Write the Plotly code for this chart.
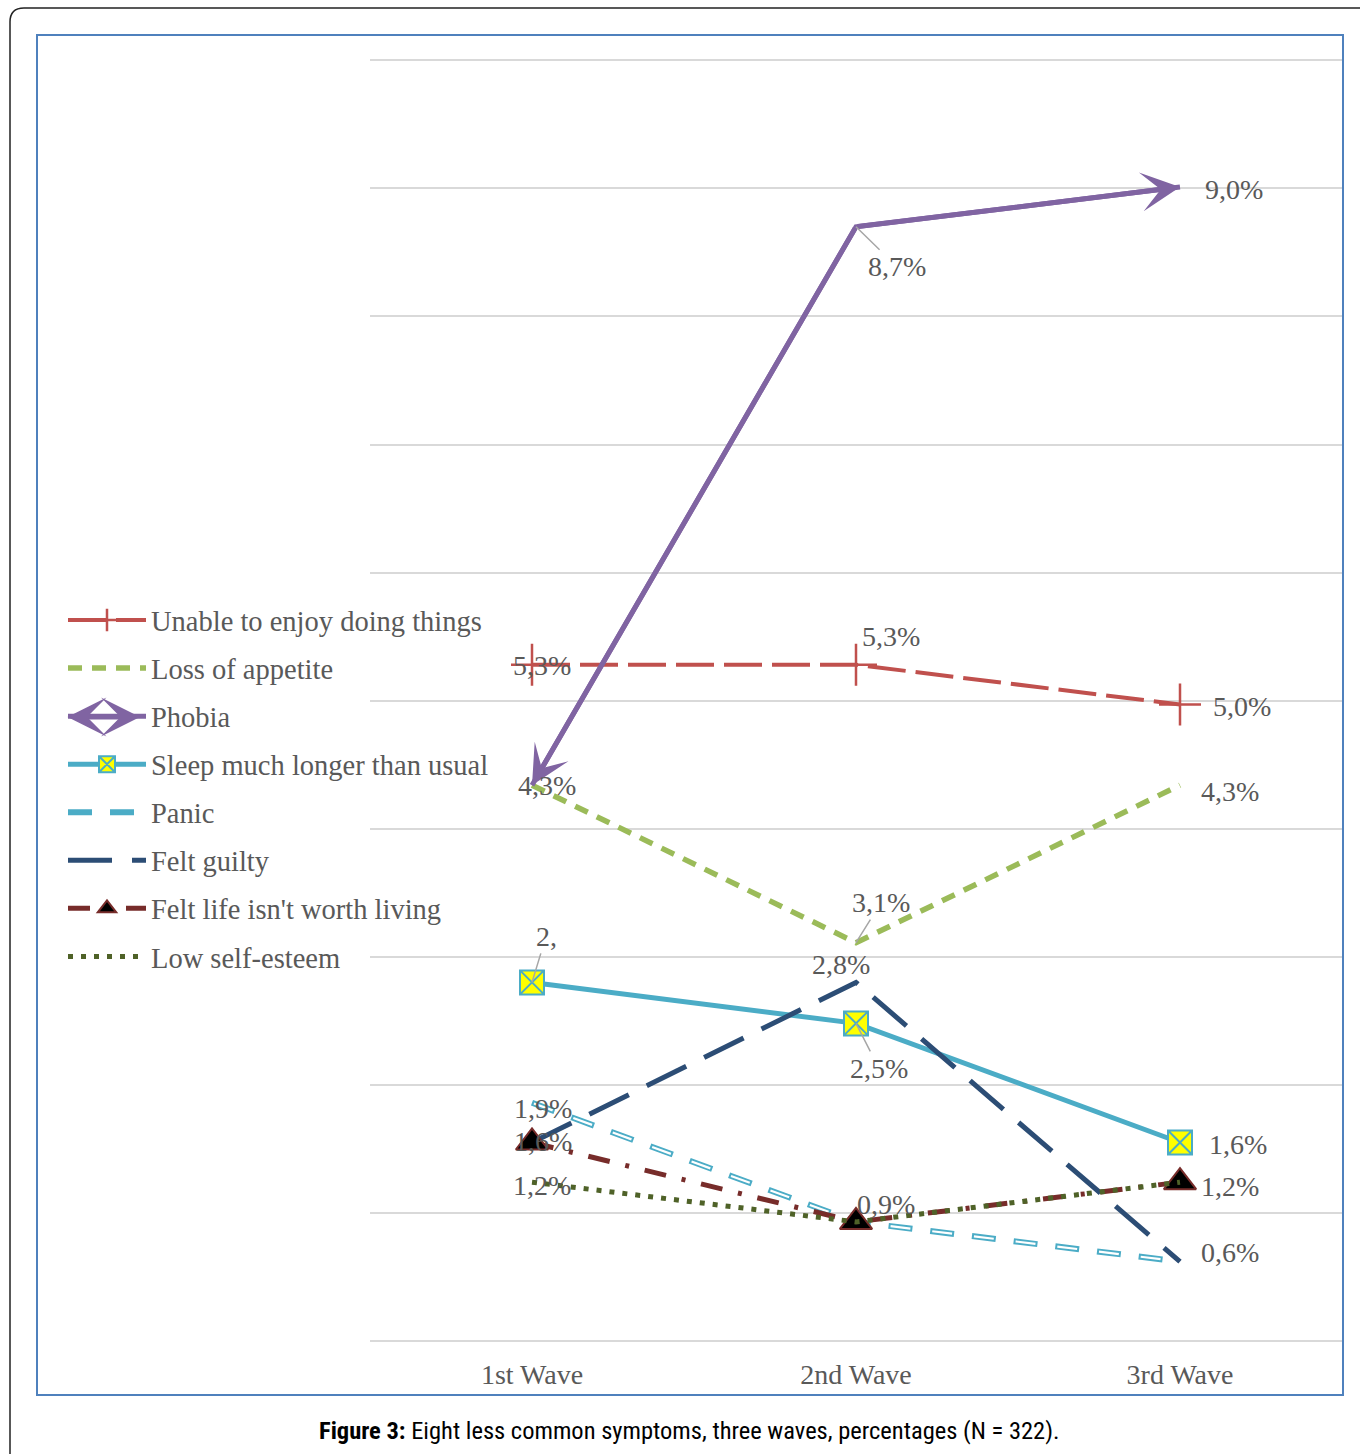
import plotly.graph_objects as go

W, H = 1360, 1454

def px(x):
    return x / W

def py(y):
    return 1 - y / H

waves = ["1st Wave", "2nd Wave", "3rd Wave"]

unable = [5.28, 5.28, 4.97]
appetite = [4.34, 3.11, 4.34]
phobia = [4.34, 8.70, 9.01]
sleep = [2.80, 2.48, 1.55]
panic = [1.86, 0.93, 0.62]
guilty = [1.55, 2.80, 0.62]
life = [1.55, 0.93, 1.24]
esteem = [1.24, 0.93, 1.24]

names = ["Unable to enjoy doing things", "Loss of appetite", "Phobia",
         "Sleep much longer than usual", "Panic", "Felt guilty",
         "Felt life isn't worth living", "Low self-esteem"]

SERIF = "Liberation Serif, Times New Roman, serif"
GRAY = "#595959"
PURPLE = "#8064A2"

fig = go.Figure()

def add(y, name, color, width, dash, marker=None, legend=True, group=None):
    fig.add_trace(go.Scatter(
        x=waves, y=y, name=name, mode="lines+markers" if marker else "lines",
        line=dict(color=color, width=width, dash=dash),
        marker=marker, showlegend=legend, legendgroup=group or name,
        cliponaxis=False,
    ))

add(unable, names[0], "#C0504D", 4, "38px,10px",
    dict(symbol="cross-thin", size=30, line=dict(width=2.5, color="#C0504D"), color="#C0504D"))
add(appetite, names[1], "#9BBB59", 5.5, "14px,10px")
add(phobia, names[2], PURPLE, 5, "solid")
add(sleep, names[3], "#4BACC6", 5, "solid",
    dict(symbol="square-x", size=24, color="#FFFF00", line=dict(width=2, color="#4BACC6")))
add(panic, names[4], "#4BACC6", 6, "24px,18px")
add(panic, names[4] + " inner", "#FFFFFF", 2.2, "0px,2px,20px,20px", legend=False, group=names[4])
add(guilty, names[5], "#2C4D75", 5, "44px,20px")
add(life, names[6], "#772C2A", 5, "22px,16px,4px,16px",
    dict(symbol="triangle-up", size=28, color="#000000", line=dict(width=2, color="#772C2A")))
add(esteem, names[7], "#4F6228", 5, "5px,8px")

# Phobia arrowheads
for i_from, i_to in [(1, 0), (1, 2)]:
    fig.add_annotation(x=i_to, y=phobia[i_to], ax=i_from, ay=phobia[i_from],
                       axref="x", ayref="y", xref="x", yref="y", text="",
                       showarrow=True, arrowhead=3, arrowsize=1.3, arrowwidth=5,
                       arrowcolor=PURPLE, standoff=0)

# double-arrow glyph over the Phobia legend sample
fig.add_annotation(xref="paper", yref="paper", x=px(140), y=py(717),
                   ax=-74, ay=0, text="",
                   showarrow=True, arrowside="end+start", arrowhead=3, arrowsize=1.3,
                   arrowwidth=5, arrowcolor=PURPLE, standoff=0)

def fmt(v):
    return f"{v:.1f}%".replace(".", ",")

# labels: (series, index, xshift, yshift, leader)
labels = [
    (unable, 0, 10, -1, False), (unable, 1, 35, 28, False), (unable, 2, 62, -2, False),
    (appetite, 0, 15, 0, False), (appetite, 1, 25, -40, True), (appetite, 2, 50, -6, False),
    (phobia, 1, 41, 40, True), (phobia, 2, 54, -2, False),
    (sleep, 1, 23, 45, True), (sleep, 2, 58, -2, False),
    (panic, 0, 11, -6, False),
    (guilty, 0, 11, 1, False), (guilty, 1, -15, 18, False), (guilty, 2, 50, 9, False),
    (life, 1, 30, 17, False),
    (esteem, 0, 10, -3, False), (esteem, 2, 50, -4, False),
]
for s, i, dx, dy, leader in labels:
    if leader:
        fig.add_annotation(x=i, y=s[i], text=fmt(s[i]), showarrow=True,
                           ax=dx, ay=dy, arrowhead=0, arrowwidth=1.5,
                           arrowcolor="#A6A6A6", standoff=0,
                           font=dict(family=SERIF, size=28, color=GRAY))
    else:
        fig.add_annotation(x=i, y=s[i], text=fmt(s[i]), showarrow=False,
                           xshift=dx, yshift=dy,
                           font=dict(family=SERIF, size=28, color=GRAY))
# truncated label of sleep at 1st wave
fig.add_annotation(x=0, y=sleep[0], text=fmt(sleep[0])[:2], showarrow=True,
                   ax=14, ay=-46, arrowhead=0, arrowwidth=1.5,
                   arrowcolor="#A6A6A6", standoff=0,
                   font=dict(family=SERIF, size=28, color=GRAY))

# caption
fig.add_annotation(xref="paper", yref="paper", x=px(689), y=py(1430),
                   text="<b>Figure 3:</b> Eight less common symptoms, three waves, percentages (N = 322).",
                   showarrow=False, xanchor="center", yanchor="middle",
                   font=dict(family="Liberation Sans Narrow, Roboto Condensed, Liberation Sans, sans-serif",
                             size=24.5, color="#000000"))

shapes = [
    dict(type="rect", xref="paper", yref="paper", x0=px(37), x1=px(1343), y0=py(35), y1=py(1395),
         line=dict(color="#4F81BD", width=2), layer="below"),
    dict(type="path", xref="paper", yref="paper",
         path=f"M {px(10)},{py(1470)} L {px(10)},{py(22)} Q {px(10)},{py(8)} {px(24)},{py(8)} L {px(1380)},{py(8)}",
         line=dict(color="#222222", width=1.5)),
]

fig.update_layout(
    width=W, height=H, margin=dict(l=0, r=0, t=0, b=0),
    paper_bgcolor="white", plot_bgcolor="white",
    shapes=shapes,
    showlegend=True,
    legend=dict(x=px(63), y=py(595), xanchor="left", yanchor="top",
                font=dict(family=SERIF, size=28.5, color=GRAY),
                traceorder="grouped", tracegroupgap=8, itemwidth=78,
                bgcolor="rgba(0,0,0,0)"),
    xaxis=dict(domain=[px(370), px(1342)], type="category", range=[-0.5, 2.5],
               showgrid=False, zeroline=False, showline=False, ticks="",
               tickfont=dict(family=SERIF, size=28, color=GRAY), ticklabelstandoff=14),
    yaxis=dict(domain=[py(1341), py(59)], range=[0, 10.01], dtick=1,
               showgrid=True, gridcolor="#D9D9D9", gridwidth=2,
               zeroline=True, zerolinecolor="#D9D9D9", zerolinewidth=2,
               showticklabels=False, ticks="", showline=False),
)

fig.write_html("out.html")
